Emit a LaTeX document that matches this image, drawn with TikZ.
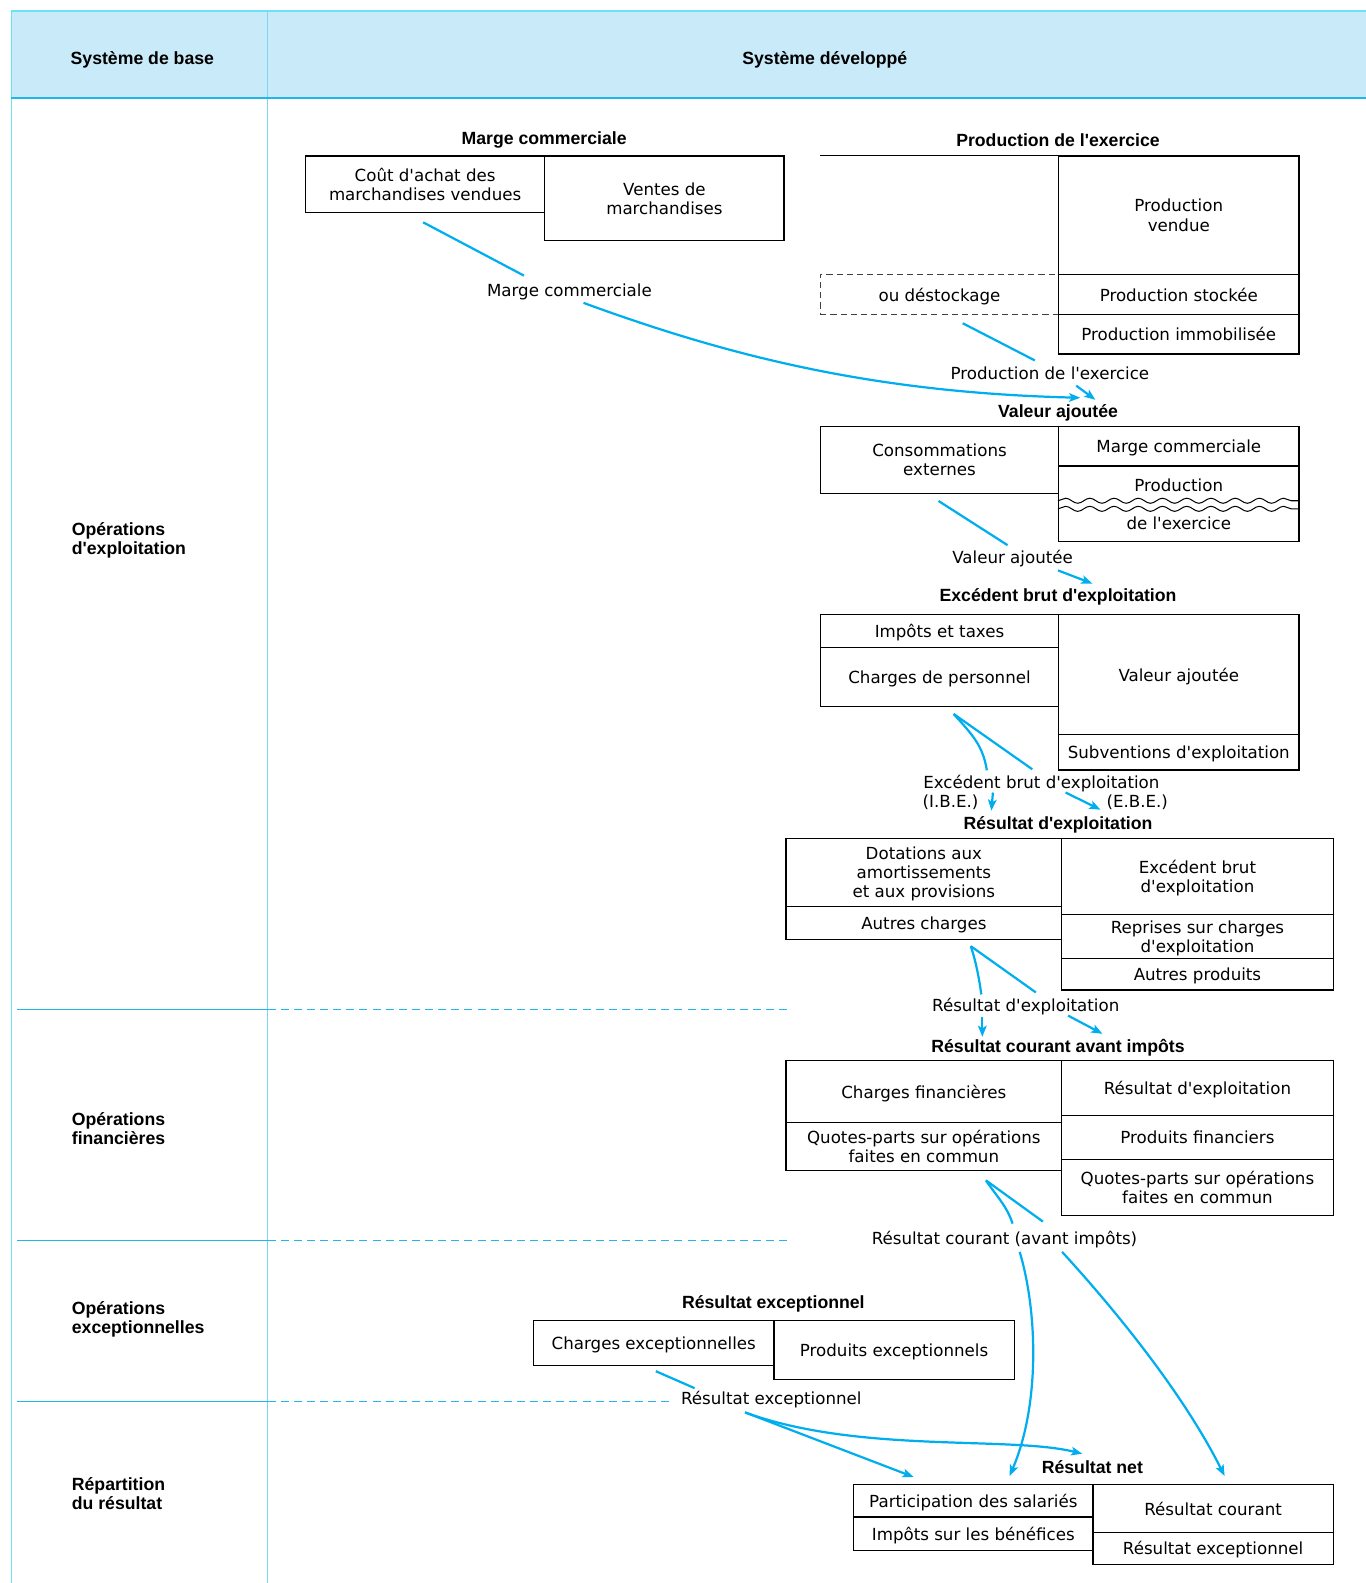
\documentclass[tikz,border=0pt]{standalone}
\usepackage{fontspec}
\setmainfont{DejaVu Sans}[Ligatures=TeXOff]
\newfontfamily\headfont{Liberation Sans}
\usetikzlibrary{arrows.meta,calc,decorations.pathmorphing}

\definecolor{flowblue}{RGB}{0,174,239}
\definecolor{headfill}{RGB}{200,234,249}
\definecolor{rulecyan}{RGB}{110,225,240}
\definecolor{ruleblue}{RGB}{130,210,240}
\definecolor{sepblue}{RGB}{30,182,235}

\begin{document}
\begin{tikzpicture}[
    x=1pt, y=-1pt,
    txt/.style={font=\fontsize{16.5}{19}\selectfont, text depth=0pt},
    cell/.style={draw, line width=1.2pt, anchor=north west, inner sep=0pt, align=center, txt},
    ttl/.style={font=\headfont\bfseries\fontsize{17.5}{19}\selectfont, inner sep=1pt, align=left, yshift=-2pt},
    lbl/.style={txt, inner sep=1pt},
    flow/.style={draw=flowblue, line width=2.2pt},
    arr/.style={flow, -{Stealth[length=11pt,width=8.5pt,inset=2.5pt]}},
    sep/.style={draw=sepblue, line width=1.2pt},
    sepdash/.style={sep, dash pattern=on 8pt off 5pt}
]
    \useasboundingbox (0,0) rectangle (1353,1568);

    % header and frame
    \fill[headfill] (11,12) rectangle (1353,97);
    \draw[rulecyan, line width=1.2pt] (11,11) -- (1353,11);
    \draw[rulecyan, line width=1pt] (11,11) -- (11,1568);
    \draw[ruleblue, line width=1.2pt] (265,12) -- (265,1568);
    \draw[sep] (11,97) -- (1353,97);
    \node[ttl] (hBase) at (141,57) {Système de base};
    \node[ttl] (hDev) at (817,57) {Système développé};

    % sections
    \draw[sep] (17,1000) -- (265,1000);
    \draw[sepdash] (265,1000) -- (780,1000);
    \draw[sep] (17,1229) -- (265,1229);
    \draw[sepdash] (265,1229) -- (780,1229);
    \draw[sep] (17,1388) -- (265,1388);
    \draw[sepdash] (265,1388) -- (665,1388);
    \node[ttl, anchor=west] (secExp) at (70,533.5) {Opérations\\d'exploitation};
    \node[ttl, anchor=west] (secFin) at (70,1115.5) {Opérations\\financières};
    \node[ttl, anchor=west] (secExc) at (70,1304.5) {Opérations\\exceptionnelles};
    \node[ttl, anchor=west] (secRep) at (70,1477.5) {Répartition\\du résultat};

    % marge commerciale
    \node[ttl] (tMC) at (539,137) {Marge commerciale};
    \node[cell, minimum width=237pt, minimum height=56pt] (cam) at (302,154) {Coût d'achat des\\marchandises vendues};
    \node[cell, minimum width=237pt, minimum height=84pt] (vm) at (539,154) {Ventes de\\marchandises};

    % production de l'exercice
    \node[ttl] (tPE) at (1048,137) {Production de l'exercice};
    \node[cell, minimum width=238pt, minimum height=117pt] (pv) at (1048,154) {Production\\vendue};
    \node[cell, draw=black!75, dash pattern=on 6pt off 4pt, minimum width=236pt, minimum height=40pt] (destock) at (812,271) {ou déstockage};
    \node[cell, minimum width=238pt, minimum height=40pt] (pst) at (1048,271) {Production stockée};
    \node[cell, minimum width=238pt, minimum height=39pt] (pim) at (1048,311) {Production immobilisée};
    \draw[line width=1.2pt] (pv.north west) -- (destock.west |- pv.north);

    % valeur ajoutee
    \node[ttl] (tVA) at (1048,407) {Valeur ajoutée};
    \node[cell, minimum width=236pt, minimum height=66pt] (ce) at (812,422) {Consommations\\externes};
    \node[cell, minimum width=238pt, minimum height=39pt] (mc2) at (1048,422) {Marge commerciale};
    \node[cell, minimum width=238pt, minimum height=75pt] (pex) at (1048,461) {Production\\[19pt]de l'exercice};
    \draw[line width=1pt, decorate, decoration={snake, segment length=24pt, amplitude=2.5pt}]
        ($(pex.north west)+(0,35)$) -- ($(pex.north east)+(0,35)$);
    \draw[line width=1pt, decorate, decoration={snake, segment length=24pt, amplitude=2.5pt}]
        ($(pex.north west)+(0,43)$) -- ($(pex.north east)+(0,43)$);

    % excedent brut d'exploitation
    \node[ttl] (tEBE) at (1048,589) {Excédent brut d'exploitation};
    \node[cell, minimum width=236pt, minimum height=33pt] (imt) at (812,608) {Impôts et taxes};
    \node[cell, minimum width=236pt, minimum height=58pt] (cp) at (812,641) {Charges de personnel};
    \node[cell, minimum width=238pt, minimum height=119pt] (va3) at (1048,608) {Valeur ajoutée};
    \node[cell, minimum width=238pt, minimum height=35pt] (sub) at (1048,727) {Subventions d'exploitation};

    % resultat d'exploitation
    \node[ttl] (tRE) at (1048,815) {Résultat d'exploitation};
    \node[cell, minimum width=273pt, minimum height=67pt] (dot) at (778,830) {Dotations aux\\amortissements\\et aux provisions};
    \node[cell, minimum width=273pt, minimum height=33pt] (ach) at (778,897) {Autres charges};
    \node[cell, minimum width=269pt, minimum height=75pt] (ebe4) at (1051,830) {Excédent brut\\d'exploitation};
    \node[cell, minimum width=269pt, minimum height=44pt] (rep) at (1051,905) {Reprises sur charges\\d'exploitation};
    \node[cell, minimum width=269pt, minimum height=31pt] (apr) at (1051,949) {Autres produits};

    % resultat courant avant impots
    \node[ttl] (tRCAI) at (1048,1036) {Résultat courant avant impôts};
    \node[cell, minimum width=273pt, minimum height=61pt] (cf) at (778,1050) {Charges financières};
    \node[cell, minimum width=273pt, minimum height=48pt] (qpc) at (778,1111) {Quotes-parts sur opérations\\faites en commun};
    \node[cell, minimum width=269pt, minimum height=54pt] (rex5) at (1051,1050) {Résultat d'exploitation};
    \node[cell, minimum width=269pt, minimum height=44pt] (pf) at (1051,1104) {Produits financiers};
    \node[cell, minimum width=269pt, minimum height=55pt] (qpp) at (1051,1148) {Quotes-parts sur opérations\\faites en commun};

    % resultat exceptionnel
    \node[ttl] (tRX) at (766,1289) {Résultat exceptionnel};
    \node[cell, minimum width=238pt, minimum height=45pt] (che) at (528,1307) {Charges exceptionnelles};
    \node[cell, minimum width=238pt, minimum height=59pt] (pre) at (766,1307) {Produits exceptionnels};

    % resultat net
    \node[ttl] (tRN) at (1082,1451) {Résultat net};
    \node[cell, minimum width=237pt, minimum height=32pt] (ps) at (845,1470) {Participation des salariés};
    \node[cell, minimum width=237pt, minimum height=33pt] (ib) at (845,1502) {Impôts sur les bénéfices};
    \node[cell, minimum width=238pt, minimum height=47pt] (rc) at (1082,1470) {Résultat courant};
    \node[cell, minimum width=238pt, minimum height=32pt] (rxc) at (1082,1517) {Résultat exceptionnel};

    % flow labels
    \node[lbl] (lMC) at (564,287) {Marge commerciale};
    \node[lbl] (lPE) at (1040,370) {Production de l'exercice};
    \node[lbl] (lVA) at (1003,552) {Valeur ajoutée};
    \node[lbl] (lEBE) at (1031.5,774) {Excédent brut d'exploitation};
    \node[lbl] (lIBE) at (941.5,794) {(I.B.E.)};
    \node[lbl] (lEBEb) at (1126.5,794) {(E.B.E.)};
    \node[lbl] (lRE) at (1016,995) {Résultat d'exploitation};
    \node[lbl] (lRC) at (995,1226) {Résultat courant (avant impôts)};
    \node[lbl] (lRX) at (764,1385) {Résultat exceptionnel};

    % flows
    \draw[flow] ($(cam.south)+(-2,9)$) -- ($(lMC)+(-45,-14)$);
    \draw[arr] ($(lMC)+(14,13)$) .. controls +(150,55) and +(-200,-5) .. ($(tVA)+(22,-15)$);
    \draw[flow] ($(destock.south)+(23,8)$) -- ($(lPE)+(-15,-13)$);
    \draw[arr] ($(lPE)+(26,12)$) -- ($(tVA)+(37,-13)$);
    \draw[flow] ($(ce.south)+(-1,7)$) -- ($(lVA)+(-5,-12)$);
    \draw[arr] ($(lVA)+(45,13)$) -- ($(tEBE)+(34,-13)$);
    \draw[flow] ($(cp.south)+(14,7)$) .. controls +(18,20) and +(-4,-25) .. ($(lEBE)+(-54,-11)$);
    \draw[flow] ($(cp.south)+(14,7)$) -- ($(lEBE)+(-9,-12)$);
    \draw[arr] ($(lEBE)+(-48,11)$) -- ($(tRE)+(-66,-14)$);
    \draw[arr] ($(lEBE)+(24,11)$) -- ($(tRE)+(42,-15)$);
    \draw[flow] ($(ach.south)+(46.5,6)$) .. controls +(5,15) and +(-2,-15) .. ($(lRE)+(-44,-10)$);
    \draw[flow] ($(ach.south)+(46.5,6)$) -- ($(lRE)+(10,-12)$);
    \draw[arr] ($(lRE)+(-43,12)$) -- ($(tRCAI)+(-75,-11)$);
    \draw[arr] ($(lRE)+(42,11)$) -- ($(tRCAI)+(44,-14)$);
    \draw[flow] ($(qpc.south)+(61.5,9)$) .. controls +(10,15) and +(-6,-18) .. ($(lRC)+(8,-14)$);
    \draw[flow] ($(qpc.south)+(61.5,9)$) -- ($(lRC)+(38,-16)$);
    \draw[arr] ($(lRC)+(15,14)$) .. controls +(18,60) and +(30,-70) .. ($(tRN)+(-82,9)$);
    \draw[arr] ($(lRC)+(57,14)$) .. controls +(55,60) and +(-40,-80) .. ($(tRN)+(131,9)$);
    \draw[flow] ($(che.south)+(2,5)$) -- ($(lRX)+(-76,-10)$);
    \draw[arr] ($(lRX)+(-26,14)$) -- ($(tRN)+(-177,10)$);
    \draw[arr] ($(lRX)+(-26,14)$) .. controls +(112,41) and +(-72,-18) .. ($(tRN)+(-10,-13)$);
\end{tikzpicture}
\end{document}
